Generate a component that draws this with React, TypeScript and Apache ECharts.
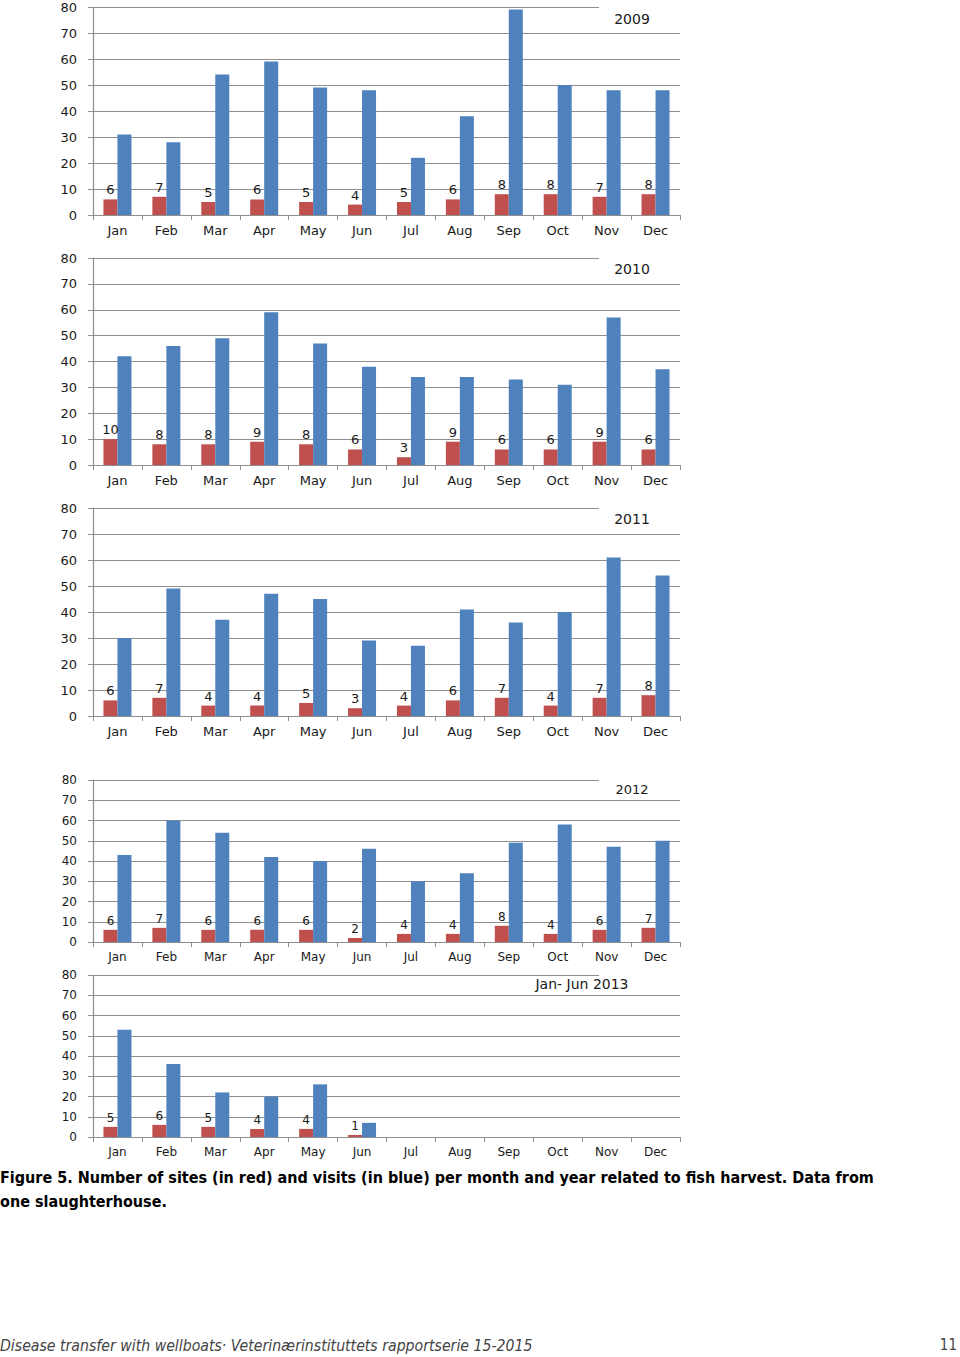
import React, { useEffect, useRef } from "react";
import * as echarts from "echarts";

const months = ["Jan", "Feb", "Mar", "Apr", "May", "Jun", "Jul", "Aug", "Sep", "Oct", "Nov", "Dec"];
const yTicks = [0, 10, 20, 30, 40, 50, 60, 70, 80];

const panelTitles = ["2009", "2010", "2011", "2012", "Jan- Jun 2013"];

const sites2009 = [6, 7, 5, 6, 5, 4, 5, 6, 8, 8, 7, 8];
const visits2009 = [31, 28, 54, 59, 49, 48, 22, 38, 79, 50, 48, 48];
const sites2010 = [10, 8, 8, 9, 8, 6, 3, 9, 6, 6, 9, 6];
const visits2010 = [42, 46, 49, 59, 47, 38, 34, 34, 33, 31, 57, 37];
const sites2011 = [6, 7, 4, 4, 5, 3, 4, 6, 7, 4, 7, 8];
const visits2011 = [30, 49, 37, 47, 45, 29, 27, 41, 36, 40, 61, 54];
const sites2012 = [6, 7, 6, 6, 6, 2, 4, 4, 8, 4, 6, 7];
const visits2012 = [43, 60, 54, 42, 40, 46, 30, 34, 49, 58, 47, 50];
const sites2013 = [5, 6, 5, 4, 4, 1, null, null, null, null, null, null];
const visits2013 = [53, 36, 22, 20, 26, 7, null, null, null, null, null, null];

const sitesAll = [sites2009, sites2010, sites2011, sites2012, sites2013];
const visitsAll = [visits2009, visits2010, visits2011, visits2012, visits2013];

const captionLine1 =
  "Figure 5. Number of sites (in red) and visits (in blue) per month and year related to fish harvest. Data from";
const captionLine2 = "one slaughterhouse.";
const footerText = "Disease transfer with wellboats· Veterinærinstituttets rapportserie 15-2015";
const pageNumber = "11";

// layout (pixels)
const panels = [
  { top: 7, bottom: 215, font: 13, titleFont: 14, titleX: 632, titleY: 19 },
  { top: 258, bottom: 465, font: 13, titleFont: 14, titleX: 632, titleY: 269 },
  { top: 508, bottom: 716, font: 13, titleFont: 14, titleX: 632, titleY: 519 },
  { top: 780, bottom: 942, font: 12, titleFont: 13, titleX: 632, titleY: 789 },
  { top: 975, bottom: 1137, font: 12, titleFont: 14, titleX: 582, titleY: 984 },
];
const gridLeft = 93;
const gridRight = 680;
const RED = "#C0504D";
const BLUE = "#4F81BD";
const GRIDC = "#8f8f8f";
const TEXTC = "#1a1a1a";
const FONT = "DejaVu Sans";

export default function App() {
  const ref = useRef<HTMLDivElement>(null);
  useEffect(() => {
    if (!ref.current) return;
    const chart = echarts.init(ref.current, undefined, { renderer: "svg" });
    const grids: any[] = [];
    const xAxes: any[] = [];
    const yAxes: any[] = [];
    const series: any[] = [];
    const graphics: any[] = [];
    panels.forEach((p, i) => {
      grids.push({
        left: gridLeft,
        width: gridRight - gridLeft,
        top: p.top,
        height: p.bottom - p.top,
      });
      xAxes.push({
        type: "category",
        gridIndex: i,
        data: months,
        axisLine: { lineStyle: { color: GRIDC, width: 1.2 } },
        axisTick: { show: true, length: 5, lineStyle: { color: GRIDC } },
        axisLabel: { color: TEXTC, fontFamily: FONT, fontSize: p.font, margin: 9 },
      });
      yAxes.push({
        type: "value",
        gridIndex: i,
        min: 0,
        max: yTicks[yTicks.length - 1],
        interval: yTicks[1] - yTicks[0],
        axisLine: { show: true, lineStyle: { color: GRIDC, width: 1.2 } },
        axisTick: { show: true, length: 5, lineStyle: { color: GRIDC } },
        splitLine: { show: true, lineStyle: { color: GRIDC, width: 1.2 } },
        axisLabel: { color: TEXTC, fontFamily: FONT, fontSize: p.font, margin: 16 },
      });
      series.push({
        type: "bar",
        name: "sites",
        xAxisIndex: i,
        yAxisIndex: i,
        data: sitesAll[i],
        barWidth: 14,
        barGap: "0%",
        itemStyle: { color: RED },
        label: {
          show: true,
          position: "top",
          distance: 3,
          color: TEXTC,
          fontFamily: FONT,
          fontSize: p.font,
        },
      });
      series.push({
        type: "bar",
        name: "visits",
        xAxisIndex: i,
        yAxisIndex: i,
        data: visitsAll[i],
        barWidth: 14,
        barGap: "0%",
        itemStyle: { color: BLUE },
      });
      // hide top gridline under the year label
      graphics.push({
        type: "rect",
        shape: { x: 599, y: p.top - 2, width: 90, height: 4 },
        style: { fill: "#ffffff" },
        z: 100,
      });
      graphics.push({
        type: "text",
        x: p.titleX,
        y: p.titleY,
        style: {
          text: panelTitles[i],
          fill: TEXTC,
          font: `${p.titleFont}px "${FONT}"`,
          align: "center",
          verticalAlign: "middle",
        },
        z: 101,
      });
    });
    graphics.push({
      type: "text",
      x: 0,
      y: 1177,
      style: {
        text: captionLine1,
        fill: "#000",
        font: `bold 16px "DejaVu Sans Condensed"`,
        verticalAlign: "middle",
      },
    });
    graphics.push({
      type: "text",
      x: 0,
      y: 1201,
      style: {
        text: captionLine2,
        fill: "#000",
        font: `bold 16px "DejaVu Sans Condensed"`,
        verticalAlign: "middle",
      },
    });
    graphics.push({
      type: "text",
      x: 0,
      y: 1345,
      style: {
        text: footerText,
        fill: "#444",
        font: `italic 15.7px "DejaVu Sans Condensed"`,
        verticalAlign: "middle",
      },
    });
    graphics.push({
      type: "text",
      x: 957,
      y: 1345,
      style: {
        text: pageNumber,
        fill: "#444",
        font: `15px "DejaVu Sans Condensed"`,
        align: "right",
        verticalAlign: "middle",
      },
    });
    chart.setOption({
      animation: false,
      backgroundColor: "#ffffff",
      grid: grids,
      xAxis: xAxes,
      yAxis: yAxes,
      series,
      graphic: graphics,
    });
    return () => chart.dispose();
  }, []);
  return (
    <div
      ref={ref}
      style={{ position: "absolute", left: 0, top: 0, width: 960, height: 1357 }}
    />
  );
}
